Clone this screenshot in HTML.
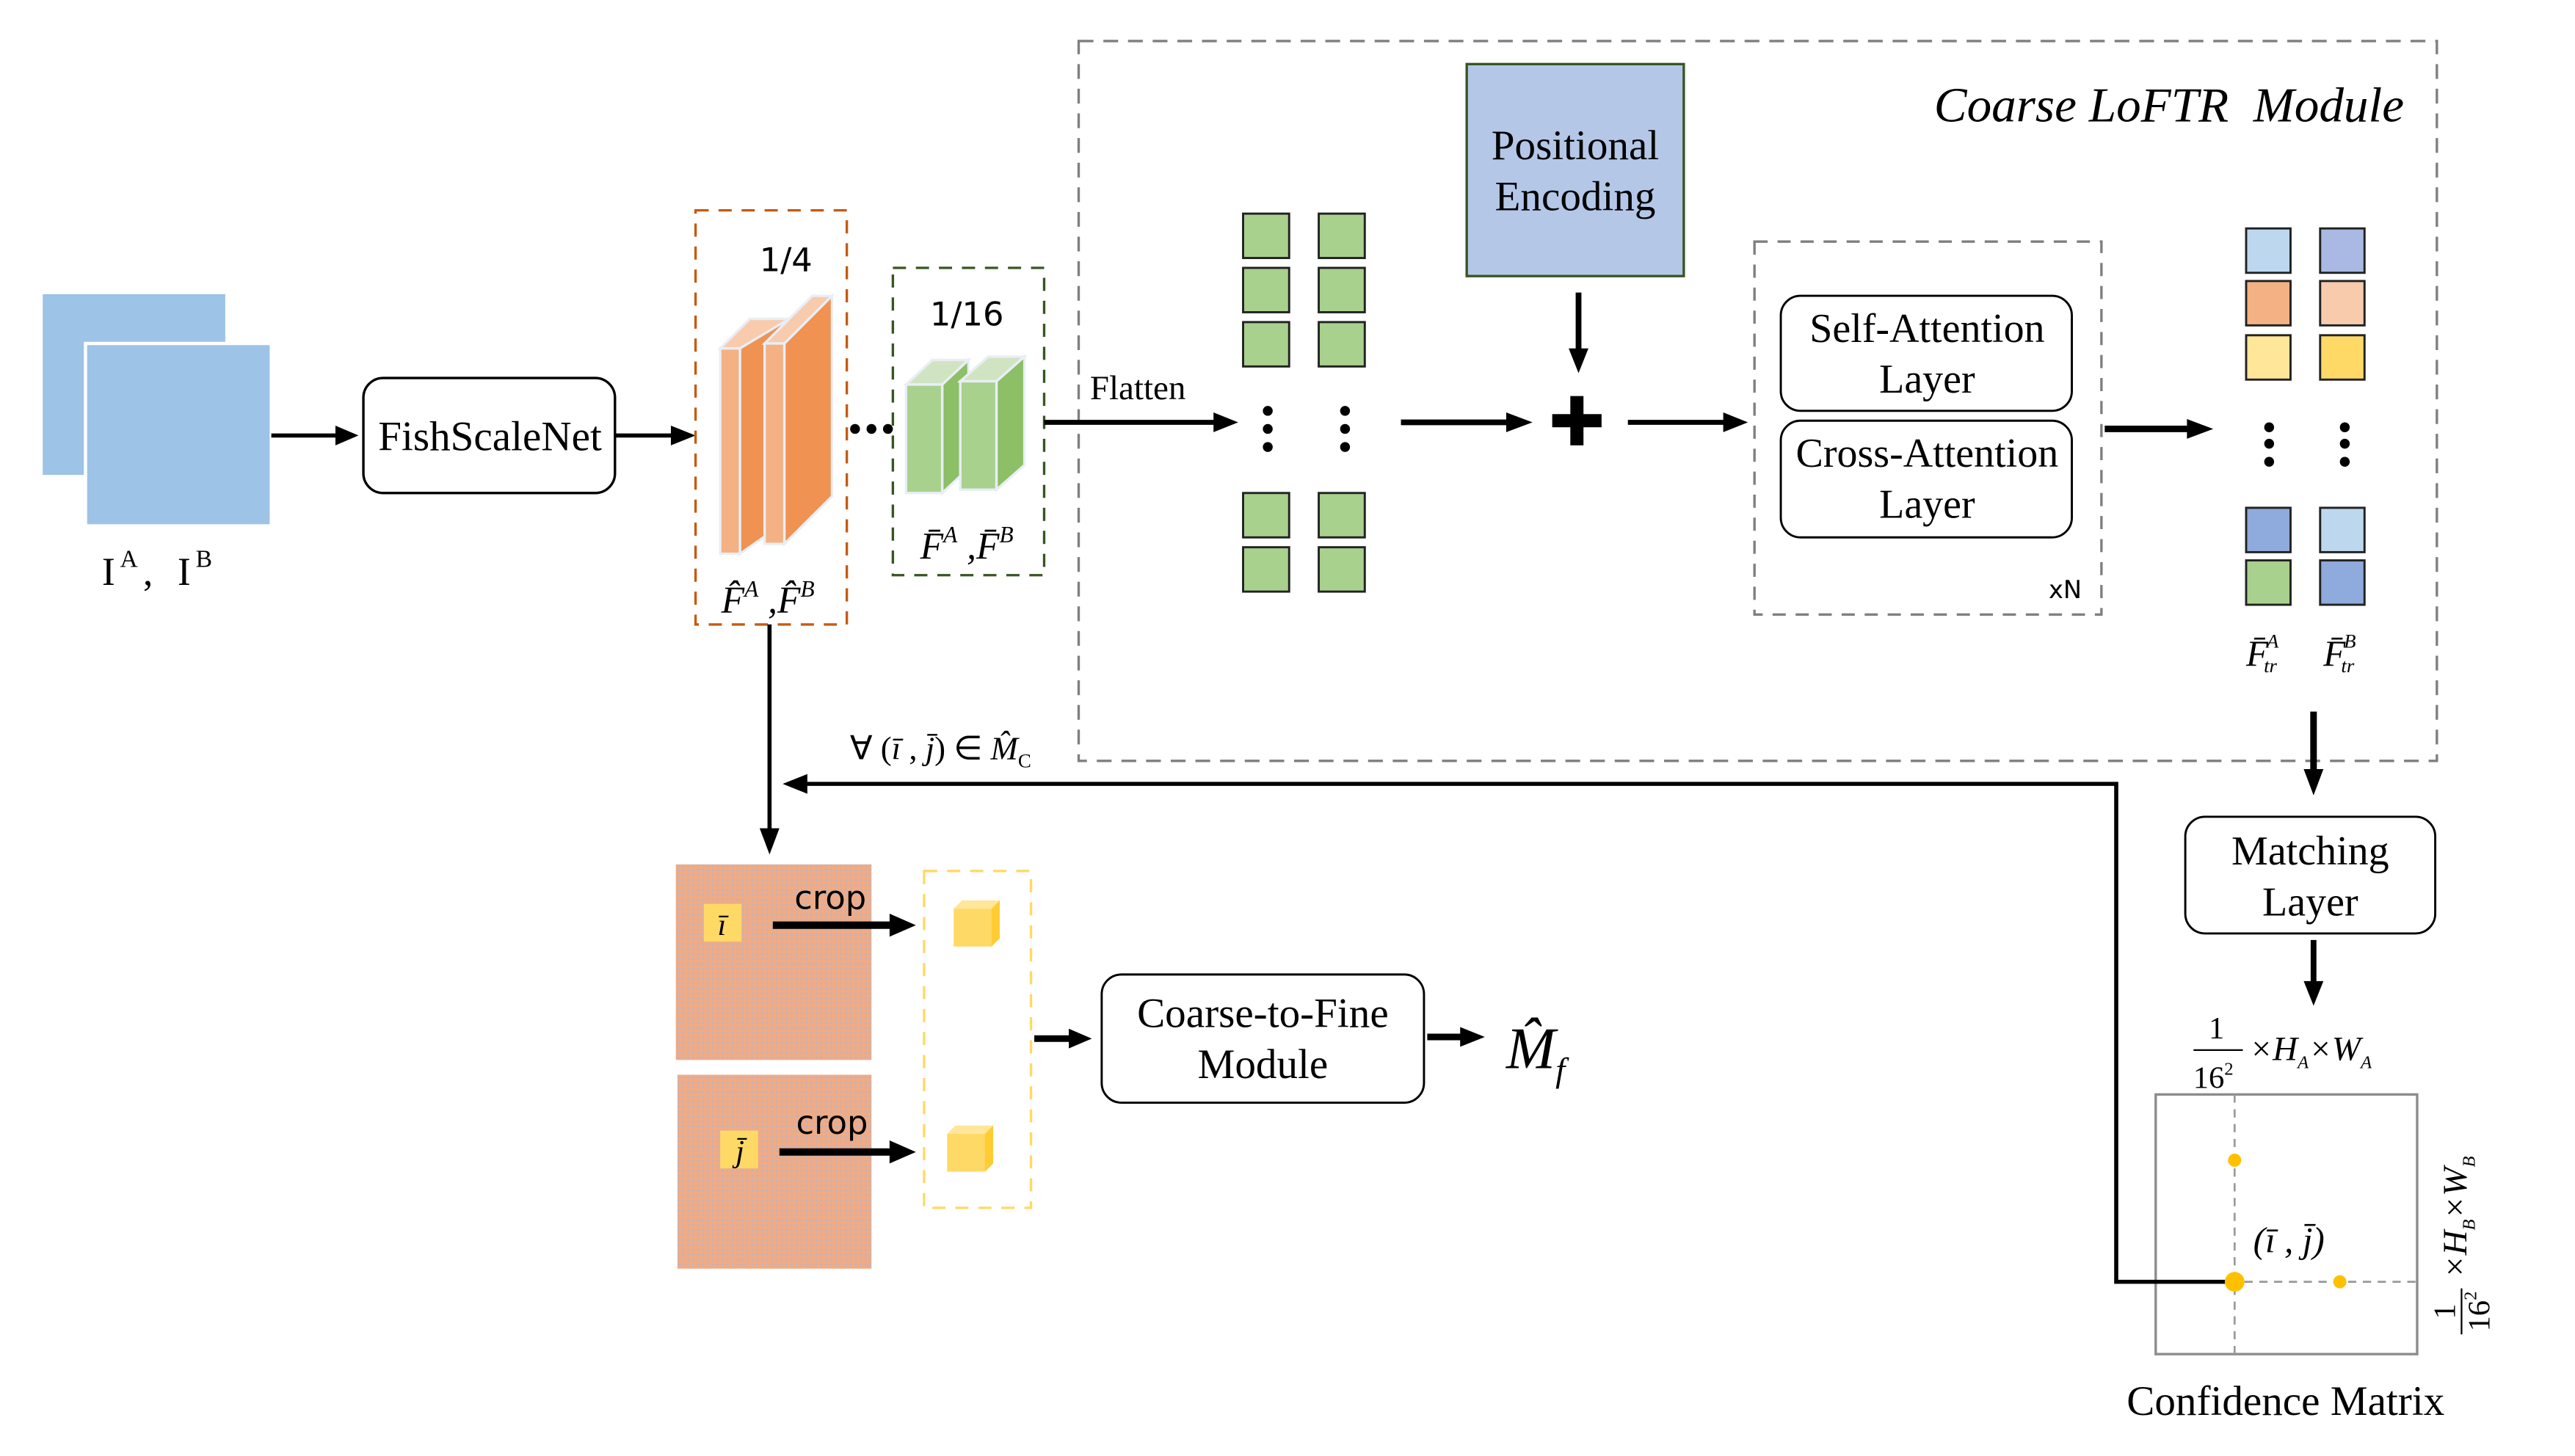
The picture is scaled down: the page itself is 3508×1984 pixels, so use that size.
<!DOCTYPE html>
<html><head><meta charset="utf-8"><style>
html,body{margin:0;padding:0;background:#fff;}
svg{display:block;}
text{font-family:"Liberation Serif",serif;fill:#000;}
.s{font-family:"DejaVu Sans","Liberation Sans",sans-serif;}
.i{font-style:italic;}
</style></head><body>
<svg width="3508" height="1984" viewBox="0 0 1566 886" preserveAspectRatio="none" xmlns="http://www.w3.org/2000/svg">
<defs>
<pattern id="dots" width="3" height="3" patternUnits="userSpaceOnUse"><rect width="3" height="3" fill="#efab85"/><rect x="1" y="1" width="1" height="1" fill="#a9b7d8"/></pattern>
</defs>
<rect x="26" y="179" width="111" height="110" fill="#9dc3e6"/>
<rect x="52" y="209" width="113" height="111" fill="#9dc3e6" stroke="#fff" stroke-width="2"/>
<text x="62" y="356" font-size="24">I</text><text x="73" y="345" font-size="15">A</text>
<text x="87" y="356" font-size="24">,</text>
<text x="108" y="356" font-size="24">I</text><text x="119" y="345" font-size="15">B</text>
<line x1="165" y1="265" x2="206" y2="265" stroke="#000" stroke-width="2.5"/>
<polygon points="218,265 204,259 204,271"/>
<rect x="221" y="230" width="153" height="70" rx="12" fill="#fff" stroke="#000" stroke-width="1.5"/>
<text x="298" y="274" font-size="25.5" text-anchor="middle">FishScaleNet</text>
<line x1="374" y1="265" x2="410" y2="265" stroke="#000" stroke-width="2.5"/>
<polygon points="423,265 408,259 408,271"/>
<rect x="423" y="128" width="92" height="252" fill="none" stroke="#c55a11" stroke-width="1.5" stroke-dasharray="8,6"/>
<text class="s" x="478" y="165" font-size="20" text-anchor="middle">1/4</text>
<g stroke="#e9eef6" stroke-width="1.5">
<polygon points="450,212 468,194 480,194 480,316 450,337" fill="#f09252"/>
<polygon points="438,212 456,194 480,194 450,212" fill="#f8cbad"/>
<rect x="438" y="212" width="12" height="125" fill="#f4b183"/>
<polygon points="477,209 506,180 506,302 477,331" fill="#f09252"/>
<polygon points="465,209 494,180 506,180 477,209" fill="#f8cbad"/>
<rect x="465" y="209" width="12" height="122" fill="#f4b183"/>
</g>
<circle cx="520" cy="261" r="3"/><circle cx="530" cy="261" r="3"/><circle cx="540" cy="261" r="3"/>
<text class="i" x="467" y="373" font-size="23" text-anchor="middle">F̂<tspan font-size="14" dy="-10">A</tspan><tspan dy="10"> ,F̂</tspan><tspan font-size="14" dy="-10">B</tspan></text>
<rect x="543" y="163" width="92" height="187" fill="none" stroke="#375623" stroke-width="1.5" stroke-dasharray="8,6"/>
<text class="s" x="588" y="198" font-size="20" text-anchor="middle">1/16</text>
<g stroke="#e9eef6" stroke-width="1.5">
<polygon points="573,234 589,219 589,285 573,300" fill="#8cbf66"/>
<polygon points="551,234 567,219 589,219 573,234" fill="#d0e4c2"/>
<rect x="551" y="234" width="22" height="66" fill="#a9d18e"/>
<polygon points="606,232 623,217 623,283 606,298" fill="#8cbf66"/>
<polygon points="584,232 601,217 623,217 606,232" fill="#d0e4c2"/>
<rect x="584" y="232" width="22" height="66" fill="#a9d18e"/>
</g>
<text class="i" x="588" y="340" font-size="23" text-anchor="middle">F̄<tspan font-size="14" dy="-10">A</tspan><tspan dy="10"> ,F̄</tspan><tspan font-size="14" dy="-10">B</tspan></text>
<rect x="656" y="25" width="826" height="438" fill="none" stroke="#7f7f7f" stroke-width="1.5" stroke-dasharray="9,6"/>
<text class="i" x="1462" y="74" font-size="30" text-anchor="end" xml:space="preserve">Coarse LoFTR  Module</text>
<text x="692" y="243" font-size="21" text-anchor="middle">Flatten</text>
<line x1="635" y1="257" x2="740" y2="257" stroke="#000" stroke-width="3"/>
<polygon points="753,257 738,251 738,263"/>
<g fill="#a9d18e" stroke="#222" stroke-width="1.3">
<rect x="756" y="130" width="28" height="27"/><rect x="802" y="130" width="28" height="27"/>
<rect x="756" y="163" width="28" height="27"/><rect x="802" y="163" width="28" height="27"/>
<rect x="756" y="196" width="28" height="27"/><rect x="802" y="196" width="28" height="27"/>
<rect x="756" y="300" width="28" height="27"/><rect x="802" y="300" width="28" height="27"/>
<rect x="756" y="333" width="28" height="27"/><rect x="802" y="333" width="28" height="27"/>
</g>
<circle cx="771" cy="250" r="3"/><circle cx="771" cy="261" r="3"/><circle cx="771" cy="272" r="3"/>
<circle cx="818" cy="250" r="3"/><circle cx="818" cy="261" r="3"/><circle cx="818" cy="272" r="3"/>
<line x1="852" y1="257" x2="918" y2="257" stroke="#000" stroke-width="3.5"/>
<polygon points="932,257 916,251 916,263"/>
<rect x="892" y="39" width="132" height="129" fill="#b4c7e7" stroke="#375623" stroke-width="1.5"/>
<text x="958" y="97" font-size="25.5" text-anchor="middle">Positional</text>
<text x="958" y="128" font-size="25.5" text-anchor="middle">Encoding</text>
<line x1="960" y1="178" x2="960" y2="214" stroke="#000" stroke-width="3.5"/>
<polygon points="960,227 954,212 966,212"/>
<rect x="955" y="241" width="8" height="30"/><rect x="944" y="252" width="30" height="8"/>
<line x1="990" y1="257" x2="1050" y2="257" stroke="#000" stroke-width="3"/>
<polygon points="1063,257 1048,251 1048,263"/>
<rect x="1067" y="147" width="211" height="227" fill="none" stroke="#7f7f7f" stroke-width="1.5" stroke-dasharray="8,6"/>
<rect x="1083" y="180" width="177" height="70" rx="12" fill="#fff" stroke="#000" stroke-width="1.3"/>
<text x="1172" y="208" font-size="25" text-anchor="middle">Self-Attention</text>
<text x="1172" y="239" font-size="25" text-anchor="middle">Layer</text>
<rect x="1083" y="256" width="177" height="71" rx="12" fill="#fff" stroke="#000" stroke-width="1.3"/>
<text x="1172" y="284" font-size="25" text-anchor="middle">Cross-Attention</text>
<text x="1172" y="315" font-size="25" text-anchor="middle">Layer</text>
<text class="s" x="1256" y="364" font-size="15" text-anchor="middle">xN</text>
<line x1="1280" y1="261" x2="1332" y2="261" stroke="#000" stroke-width="4"/>
<polygon points="1346,261 1330,255 1330,267"/>
<g stroke="#222" stroke-width="1.3">
<rect x="1366" y="139" width="27" height="27" fill="#bdd7ee"/><rect x="1411" y="139" width="27" height="27" fill="#a9b9e3"/>
<rect x="1366" y="171" width="27" height="27" fill="#f4b183"/><rect x="1411" y="171" width="27" height="27" fill="#f8cbad"/>
<rect x="1366" y="204" width="27" height="27" fill="#ffe699"/><rect x="1411" y="204" width="27" height="27" fill="#ffd966"/>
<rect x="1366" y="309" width="27" height="27" fill="#8faadc"/><rect x="1411" y="309" width="27" height="27" fill="#bdd7ee"/>
<rect x="1366" y="341" width="27" height="27" fill="#a9d18e"/><rect x="1411" y="341" width="27" height="27" fill="#8faadc"/>
</g>
<circle cx="1380" cy="260" r="3"/><circle cx="1380" cy="270" r="3"/><circle cx="1380" cy="281" r="3"/>
<circle cx="1426" cy="260" r="3"/><circle cx="1426" cy="270" r="3"/><circle cx="1426" cy="281" r="3"/>
<text class="i" x="1366" y="405" font-size="22">F̄<tspan font-size="12" dy="-11" dx="-1">A</tspan><tspan font-size="12" dy="15" dx="-9">tr</tspan></text>
<text class="i" x="1413" y="405" font-size="22">F̄<tspan font-size="12" dy="-11" dx="-1">B</tspan><tspan font-size="12" dy="15" dx="-9">tr</tspan></text>
<line x1="1407" y1="433" x2="1407" y2="470" stroke="#000" stroke-width="4"/>
<polygon points="1407,484 1401,468 1413,468"/>
<rect x="1329" y="497" width="152" height="71" rx="12" fill="#fff" stroke="#000" stroke-width="1.3"/>
<text x="1405" y="526" font-size="25" text-anchor="middle">Matching</text>
<text x="1405" y="557" font-size="25" text-anchor="middle">Layer</text>
<line x1="1407" y1="572" x2="1407" y2="599" stroke="#000" stroke-width="3.5"/>
<polygon points="1407,612 1401,597 1413,597"/>
<text x="1348" y="632" font-size="19" text-anchor="middle">1</text>
<line x1="1334" y1="639" x2="1364" y2="639" stroke="#000" stroke-width="1"/>
<text x="1346" y="662" font-size="19" text-anchor="middle">16<tspan font-size="11" dy="-8">2</tspan></text>
<text class="i" x="1368" y="645" font-size="21">×H<tspan font-size="11" dy="5">A</tspan><tspan dy="-5">×W</tspan><tspan font-size="11" dy="5">A</tspan></text>
<rect x="1311" y="666" width="159" height="158" fill="#fff" stroke="#8c8c8c" stroke-width="1.5"/>
<line x1="1359" y1="666" x2="1359" y2="824" stroke="#999" stroke-width="1.2" stroke-dasharray="5,4"/>
<line x1="1311" y1="780" x2="1470" y2="780" stroke="#999" stroke-width="1.2" stroke-dasharray="5,4"/>
<text class="i" x="1392" y="762" font-size="22" text-anchor="middle">(ī , j̄)</text>
<circle cx="1359" cy="706" r="4" fill="#ffc000"/>
<circle cx="1423" cy="780" r="4" fill="#ffc000"/>
<g transform="translate(1498,740) rotate(-90)">
<text x="-58" y="-5" font-size="19" text-anchor="middle">1</text>
<line x1="-72" y1="-1" x2="-44" y2="-1" stroke="#000" stroke-width="1"/>
<text x="-58" y="16" font-size="19" text-anchor="middle">16<tspan font-size="11" dy="-8">2</tspan></text>
<text class="i" x="-38" y="2" font-size="21">×H<tspan font-size="11" dy="5">B</tspan><tspan dy="-5">×W</tspan><tspan font-size="11" dy="5">B</tspan></text>
</g>
<text x="1390" y="861" font-size="25.5" text-anchor="middle">Confidence Matrix</text>
<polyline points="1359,780 1287,780 1287,477 490,477" fill="none" stroke="#000" stroke-width="2.5"/>
<polygon points="476,477 491,471 491,483"/>
<circle cx="1359" cy="780" r="6" fill="#ffc000"/>
<text x="572" y="462" font-size="20" text-anchor="middle">∀ (<tspan class="i">ī</tspan> , <tspan class="i">j̄</tspan>) ∈ <tspan class="i">M̂</tspan><tspan font-size="12" dy="5">C</tspan></text>
<line x1="468" y1="380" x2="468" y2="506" stroke="#000" stroke-width="2.5"/>
<polygon points="468,520 462,504 474,504"/>
<rect x="411" y="526" width="119" height="119" fill="url(#dots)"/>
<rect x="412" y="654" width="118" height="118" fill="url(#dots)"/>
<rect x="428" y="550" width="23" height="23" fill="#ffd966"/>
<text class="i" x="439" y="569" font-size="19" text-anchor="middle">ī</text>
<rect x="438" y="688" width="23" height="23" fill="#ffd966"/>
<text class="i" x="450" y="707" font-size="19" text-anchor="middle">j̄</text>
<text class="s" x="505" y="553" font-size="20" text-anchor="middle">crop</text>
<text class="s" x="506" y="690" font-size="20" text-anchor="middle">crop</text>
<line x1="470" y1="563" x2="542" y2="563" stroke="#000" stroke-width="4.5"/>
<polygon points="557,563 541,556 541,570"/>
<line x1="474" y1="701" x2="542" y2="701" stroke="#000" stroke-width="4.5"/>
<polygon points="557,701 541,694 541,708"/>
<rect x="562" y="530" width="65" height="205" fill="none" stroke="#ffd966" stroke-width="1.5" stroke-dasharray="8,6"/>
<g>
<polygon points="580,553 585,548 608,548 608,571 603,576 580,576" fill="#ffd966"/>
<polygon points="580,553 585,548 608,548 603,553" fill="#ffe699"/>
<polygon points="603,553 608,548 608,571 603,576" fill="#ffcc33"/>
<polygon points="576,690 581,685 604,685 604,708 599,713 576,713" fill="#ffd966"/>
<polygon points="576,690 581,685 604,685 599,690" fill="#ffe699"/>
<polygon points="599,690 604,685 604,708 599,713" fill="#ffcc33"/>
</g>
<line x1="629" y1="632" x2="652" y2="632" stroke="#000" stroke-width="4"/>
<polygon points="664,632 650,626 650,638"/>
<rect x="670" y="593" width="196" height="78" rx="12" fill="#fff" stroke="#000" stroke-width="1.3"/>
<text x="768" y="625" font-size="25.5" text-anchor="middle">Coarse-to-Fine</text>
<text x="768" y="656" font-size="25.5" text-anchor="middle">Module</text>
<line x1="868" y1="631" x2="890" y2="631" stroke="#000" stroke-width="4"/>
<polygon points="903,631 888,625 888,637"/>
<text class="i" x="916" y="650" font-size="36">M̂<tspan font-size="21" dy="8">f</tspan></text>
</svg>
</body></html>
